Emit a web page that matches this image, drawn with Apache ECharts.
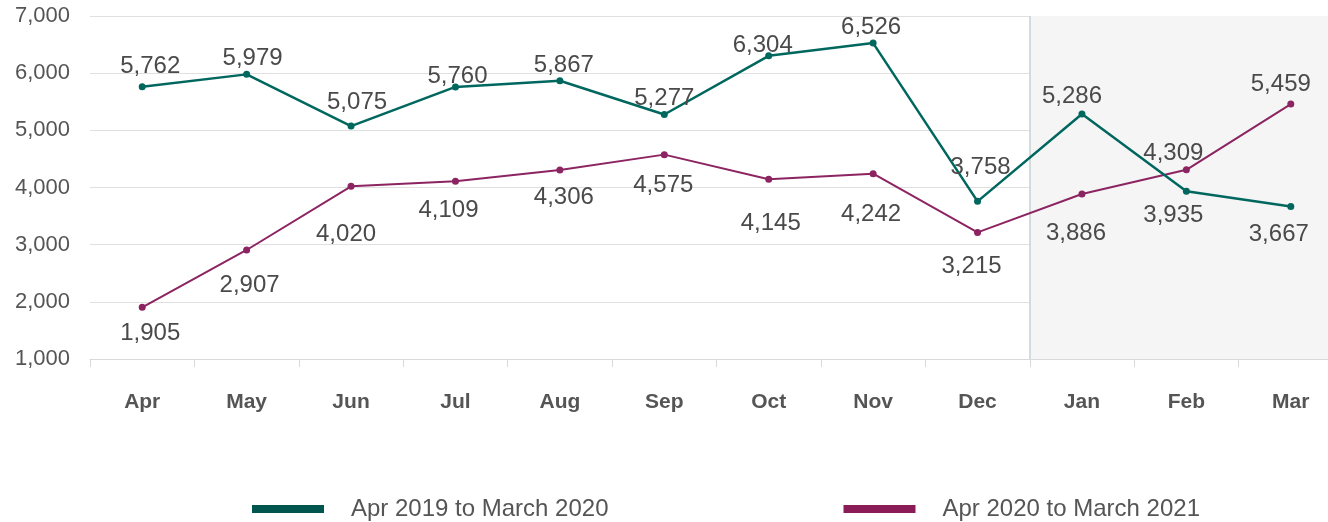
<!DOCTYPE html>
<html><head><meta charset="utf-8">
<script src="https://cdn.jsdelivr.net/npm/echarts@6/dist/echarts.min.js"></script>
<style>html,body{margin:0;padding:0;background:#fff}#c{width:1328px;height:522px}</style>
</head><body><div id="c"></div>
<script>
const months = ['Apr','May','Jun','Jul','Aug','Sep','Oct','Nov','Dec','Jan','Feb','Mar'];
const series1Name = 'Apr 2019 to March 2020';
const series2Name = 'Apr 2020 to March 2021';
const series1 = [5762, 5979, 5075, 5760, 5867, 5277, 6304, 6526, 3758, 5286, 3935, 3667];
const series2 = [1905, 2907, 4020, 4109, 4306, 4575, 4145, 4242, 3215, 3886, 4309, 5459];
const shadedMonths = ['Jan','Feb','Mar'];

// label placement (layout only)
const off1 = [[8,-20],[6,-16],[6,-24],[2,-11],[4,-15],[0,-16],[-6,-10],[-2,-16],[3,-34],[-10,-18],[-13,24],[-12,28]];
const off2 = [[8,26],[3,35],[-5,48],[-7,29],[4,27],[-1,31],[2,44],[-2,41],[-6,34],[-6,39],[-13,-16],[-10,-20]];

const GREEN = '#00675f', PURPLE = '#8c2461';
const FONT = 'Liberation Sans, Arial, Helvetica, sans-serif';

function mk(vals, offs) {
  return vals.map((v, i) => ({
    value: v,
    label: { show: true, position: 'inside', offset: offs[i],
      formatter: p => p.value.toLocaleString('en-US'),
      color: '#4a4a4a', fontSize: 24, fontFamily: FONT }
  }));
}
const areaColors = months.map(m => shadedMonths.includes(m) ? '#f5f5f5' : 'rgba(0,0,0,0)');
const lineColors = months.map((m, i) => (i === months.indexOf(shadedMonths[0])) ? '#c5d1d4' : 'rgba(0,0,0,0)');

const chart = echarts.init(document.getElementById('c'), null, {renderer: 'canvas'});
chart.setOption({
  animation: false,
  textStyle: { fontFamily: FONT },
  grid: { left: 90, width: 1253, top: 16, bottom: 163, outerBoundsMode: 'none', containLabel: false },
  xAxis: {
    type: 'category', data: months, boundaryGap: true,
    axisLine: { lineStyle: { color: '#d9d9d9', width: 1 } },
    axisTick: { show: true, length: 8, lineStyle: { color: '#d9d9d9' } },
    axisLabel: { color: '#555', fontSize: 21, fontWeight: 'bold', margin: 33, fontFamily: FONT },
    splitArea: { show: true, interval: 0, areaStyle: { color: areaColors } },
    splitLine: { show: true, interval: 0, lineStyle: { color: lineColors, width: 1.5 } }
  },
  yAxis: {
    type: 'value', min: 1000, max: 7000, interval: 1000,
    axisLine: { show: false }, axisTick: { show: false },
    axisLabel: { color: '#555', fontSize: 22, margin: 20, fontFamily: FONT,
      formatter: v => v.toLocaleString('en-US') },
    splitLine: { lineStyle: { color: '#e0e0e0', width: 1.2 } }
  },
  legend: {
    top: 492, left: 247, itemWidth: 72, itemHeight: 8, itemGap: 235, icon: 'rect',
    textStyle: { color: '#555', fontSize: 24, fontFamily: FONT, padding: [0,0,0,22] },
    data: [{ name: series1Name, itemStyle: { color: '#00554f' } }, { name: series2Name, itemStyle: { color: '#8a1d58' } }]
  },
  series: [
    { name: series1Name, type: 'line', data: mk(series1, off1), symbol: 'circle', symbolSize: 7,
      itemStyle: { color: GREEN }, lineStyle: { color: GREEN, width: 2.5 }, z: 3 },
    { name: series2Name, type: 'line', data: mk(series2, off2), symbol: 'circle', symbolSize: 7,
      itemStyle: { color: PURPLE }, lineStyle: { color: PURPLE, width: 2 }, z: 2 }
  ]
});
</script></body></html>
